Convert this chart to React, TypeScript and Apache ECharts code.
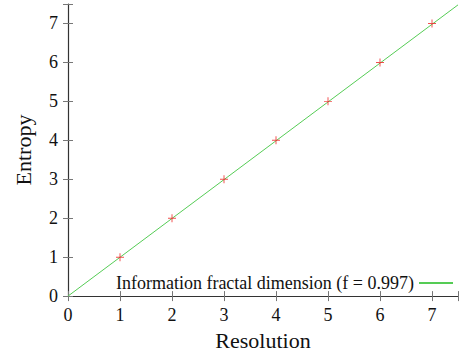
import React, { useEffect, useRef } from "react";
import * as echarts from "echarts";

const resolution = [1, 2, 3, 4, 5, 6, 7];
const entropy = [1, 2, 3, 4, 5, 6, 7];
const slope = 0.997;
const fitX = [0, 7.5];
const legendName = "Information fractal dimension (f = 0.997)";

const FONT = "Liberation Serif";

export default function App() {
  const ref = useRef<HTMLDivElement>(null);
  useEffect(() => {
    const chart = echarts.init(ref.current!, null, { renderer: "svg" });
    const axisCommon = {
      type: "value" as const,
      min: 0,
      max: 7.5,
      interval: 1,
      splitLine: { show: false },
      axisLine: { show: true, lineStyle: { color: "#333", width: 1.2 } },
      axisTick: { show: true, inside: true, length: 5, lineStyle: { color: "#777" } },
    };
    const fmt = (v: number) => (Number.isInteger(v) ? String(v) : "");
    chart.setOption({
      animation: false,
      backgroundColor: "#fff",
      textStyle: { fontFamily: FONT },
      grid: { left: 68, top: 4, right: -1, bottom: 58 },
      xAxis: [
        {
          ...axisCommon,
          position: "bottom",
          name: "Resolution",
          nameLocation: "middle",
          nameGap: 32,
          nameTextStyle: { fontFamily: FONT, fontSize: 22, color: "#111" },
          axisLabel: { formatter: fmt, fontFamily: FONT, fontSize: 18, color: "#111", margin: 10 },
        },
        {
          ...axisCommon,
          position: "top",
          axisLabel: { show: false },
        },
      ],
      yAxis: [
        {
          ...axisCommon,
          position: "left",
          name: "Entropy",
          nameLocation: "middle",
          nameGap: 34,
          nameTextStyle: { fontFamily: FONT, fontSize: 22, color: "#111" },
          axisLabel: { formatter: fmt, fontFamily: FONT, fontSize: 18, color: "#111", margin: 10 },
        },
        {
          ...axisCommon,
          position: "right",
          axisLine: { show: false },
          axisLabel: { show: false },
        },
      ],
      legend: {
        right: 2,
        top: 269,
        align: "right",
        itemWidth: 34,
        itemHeight: 2,
        itemGap: 0,
        textStyle: { fontFamily: FONT, fontSize: 18, color: "#111" },
        data: [legendName],
      },
      series: [
        {
          name: legendName,
          type: "line",
          symbol: "none",
          data: fitX.map((x) => [x, x * slope]),
          lineStyle: { color: "#55cc55", width: 1 },
          itemStyle: { color: "#55cc55" },
          z: 2,
        },
        {
          name: "points",
          type: "scatter",
          symbol:
            "path://M-0.12,-1H0.12V-0.12H1V0.12H0.12V1H-0.12V0.12H-1V-0.12H-0.12Z",
          symbolSize: 8,
          itemStyle: { color: "#ee2222" },
          data: resolution.map((x, i) => [x, entropy[i]]),
          z: 3,
        },
      ],
    });
    return () => chart.dispose();
  }, []);
  return <div ref={ref} style={{ width: 461, height: 356, position: "absolute", left: 0, top: 0 }} />;
}
